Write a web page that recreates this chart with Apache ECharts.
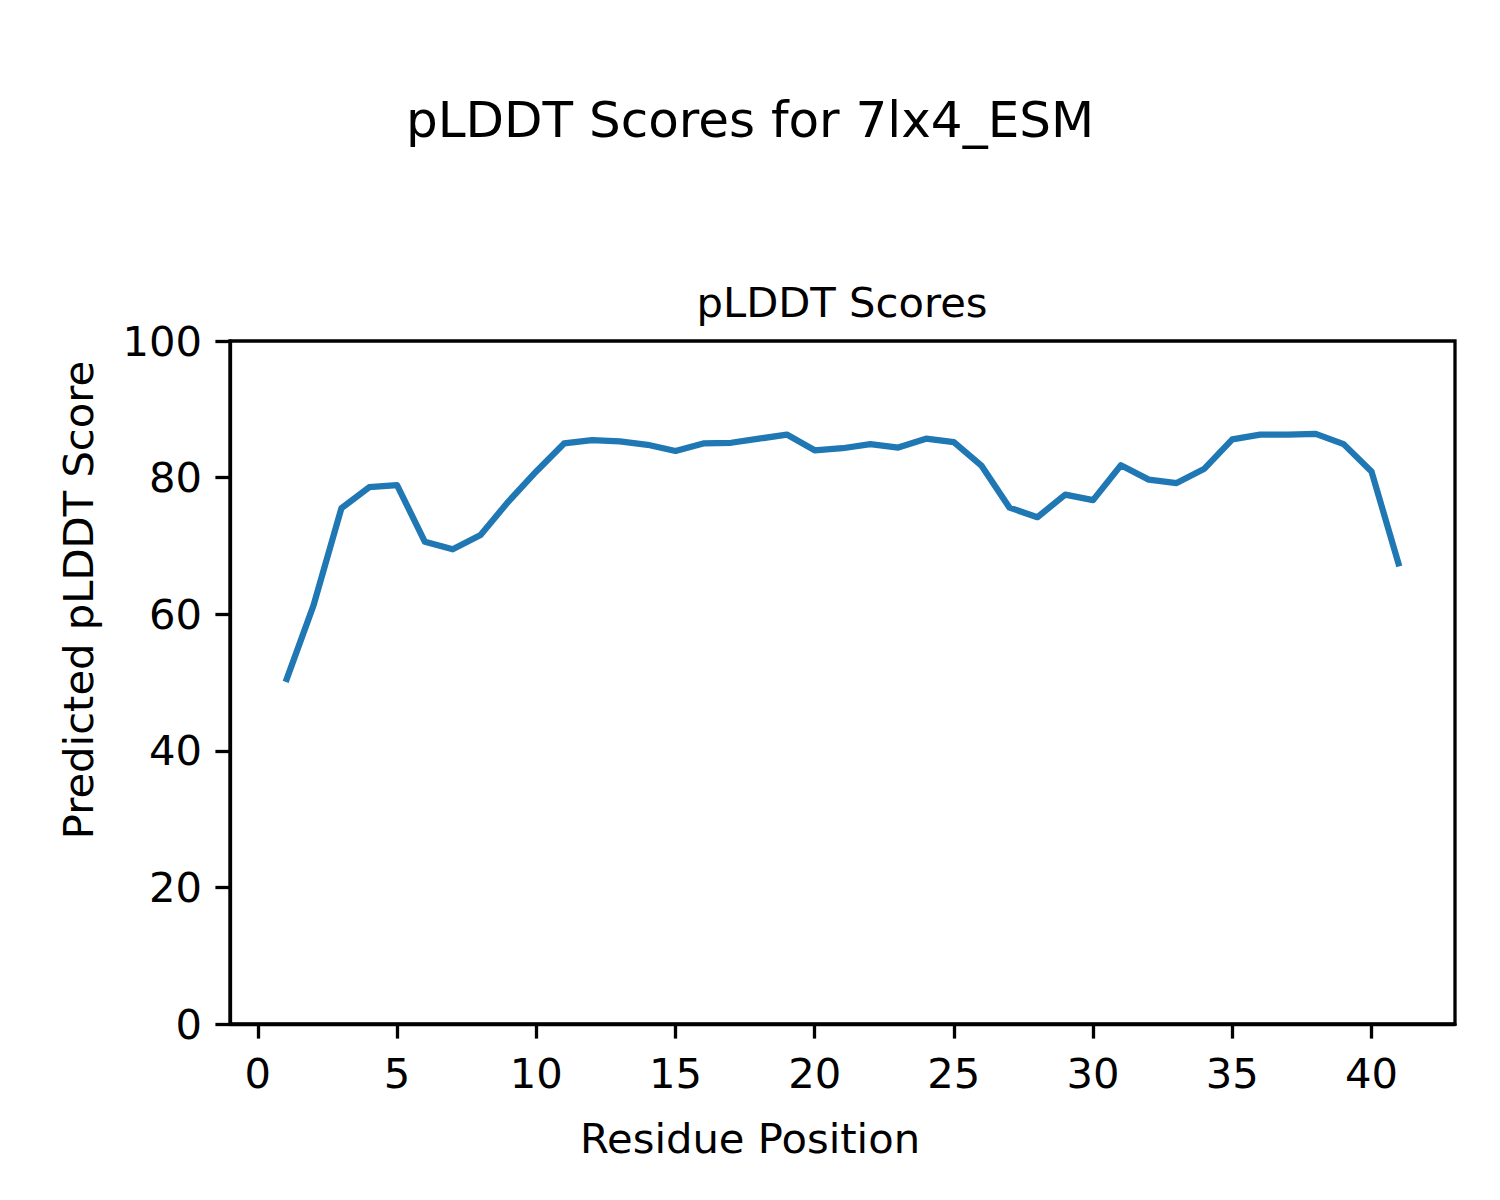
<!DOCTYPE html>
<html>
<head>
<meta charset="utf-8">
<script src="https://cdn.jsdelivr.net/npm/echarts@6/dist/echarts.min.js"></script>
<style>
html,body{margin:0;padding:0;background:#fff;}
#chart{width:1500px;height:1200px;}
</style>
</head>
<body>
<div id="chart"></div>
<script>
const residues = [1,2,3,4,5,6,7,8,9,10,11,12,13,14,15,16,17,18,19,20,21,22,23,24,25,26,27,28,29,30,31,32,33,34,35,36,37,38,39,40,41];
const plddt = [50.1,61.3,75.5,78.6,78.9,70.6,69.5,71.6,76.5,80.9,85.0,85.5,85.3,84.8,83.9,85.0,85.1,85.7,86.3,84.0,84.3,84.9,84.4,85.7,85.2,81.7,75.6,74.2,77.5,76.7,81.8,79.7,79.2,81.3,85.6,86.3,86.3,86.4,84.9,80.9,67.0];
const xTicks = [0,5,10,15,20,25,30,35,40];
const yTicks = [0,20,40,60,80,100];
const suptitle = 'pLDDT Scores for 7lx4_ESM';
const axTitle = 'pLDDT Scores';
const xName = 'Residue Position';
const yName = 'Predicted pLDDT Score';

const FONT = 'DejaVu Sans';
const chart = echarts.init(document.getElementById('chart'), null, {renderer: 'svg'});
chart.setOption({
  animation: false,
  backgroundColor: '#fff',
  grid: {left: 230, right: 45, top: 341, bottom: 176, show: true, borderColor: '#000', borderWidth: 3.3, containLabel: false},
  xAxis: {
    type: 'value', min: -1, max: 43,
    axisLine: {show: true, onZero: false, lineStyle: {color: '#000', width: 3.3}},
    axisTick: {show: true, length: 14.6, inside: false, customValues: xTicks, lineStyle: {color: '#000', width: 3.3}},
    axisLabel: {show: true, customValues: xTicks, margin: 28, color: '#000', fontSize: 41.7, fontFamily: FONT},
    splitLine: {show: false}
  },
  yAxis: {
    type: 'value', min: 0, max: 100, interval: 20,
    axisLine: {show: true, onZero: false, lineStyle: {color: '#000', width: 3.3}},
    axisTick: {show: true, length: 14.6, inside: false, lineStyle: {color: '#000', width: 3.3}},
    axisLabel: {show: true, margin: 28, color: '#000', fontSize: 41.7, fontFamily: FONT},
    splitLine: {show: false}
  },
  series: [{
    type: 'line',
    data: residues.map((r, i) => [r, plddt[i]]),
    showSymbol: false,
    symbol: 'none',
    lineStyle: {color: '#1f77b4', width: 6.25, cap: 'butt', join: 'round'},
    itemStyle: {color: '#1f77b4'}
  }],
  graphic: [
    {type: 'text', x: 750, y: 120, style: {text: suptitle, fontSize: 50, fontFamily: FONT, fill: '#000', align: 'center', verticalAlign: 'middle'}},
    {type: 'text', x: 842, y: 302, style: {text: axTitle, fontSize: 41.7, fontFamily: FONT, fill: '#000', align: 'center', verticalAlign: 'middle'}},
    {type: 'text', x: 750, y: 1138, style: {text: xName, fontSize: 41.7, fontFamily: FONT, fill: '#000', align: 'center', verticalAlign: 'middle'}},
    {type: 'text', x: 78, y: 600, rotation: Math.PI / 2, style: {text: yName, fontSize: 41.7, fontFamily: FONT, fill: '#000', align: 'center', verticalAlign: 'middle'}}
  ]
});
</script>
</body>
</html>
